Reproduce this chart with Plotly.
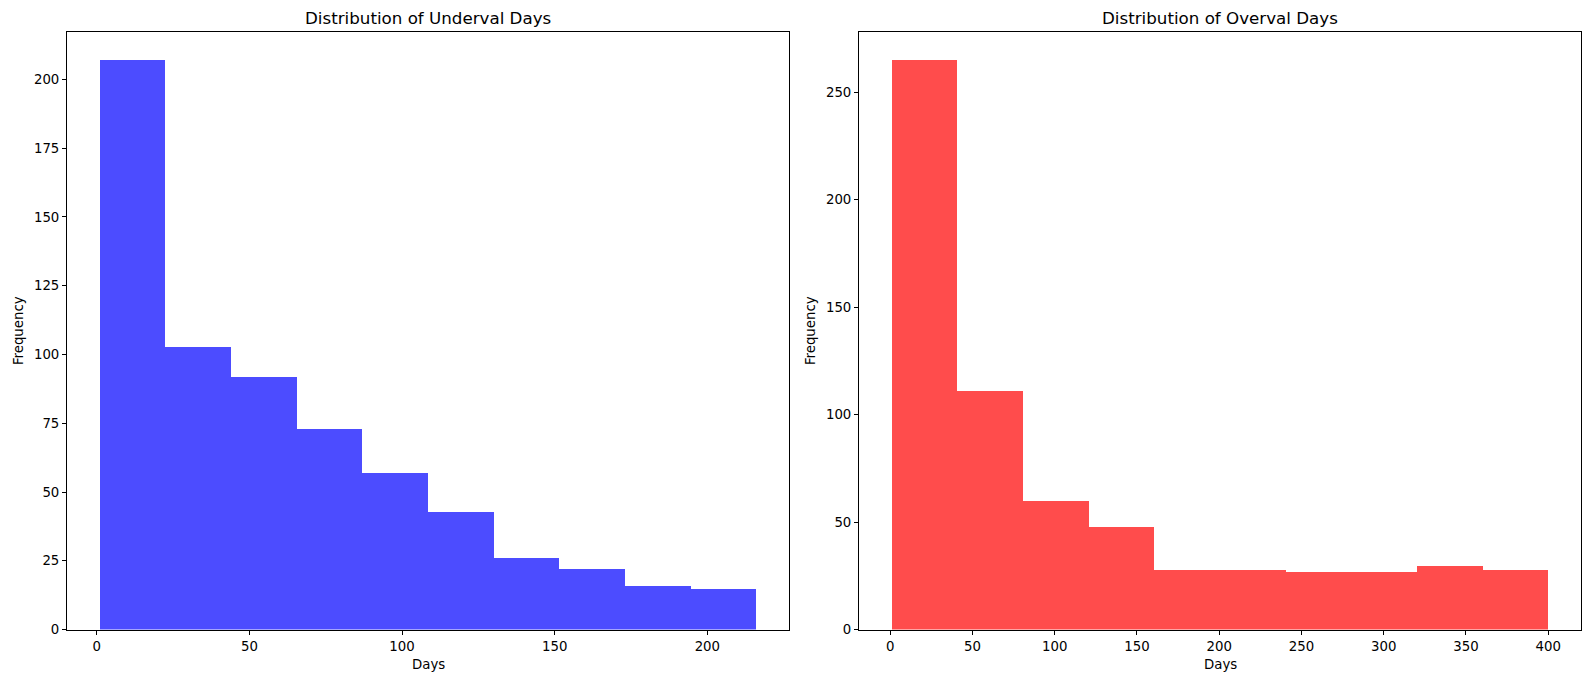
import numpy as np
import plotly.graph_objects as go

# histogram counts (10 bins each)
under_counts = [207, 103, 92, 73, 57, 43, 26, 22, 16, 15]
under_lo, under_hi = 1, 216
over_counts = [265, 111, 60, 48, 28, 28, 27, 27, 30, 28]
over_lo, over_hi = 1, 400

under_xticks = [0, 50, 100, 150, 200]
under_yticks = [0, 25, 50, 75, 100, 125, 150, 175, 200]
over_xticks = [0, 50, 100, 150, 200, 250, 300, 350, 400]
over_yticks = [0, 50, 100, 150, 200, 250]

W, H = 1589, 690
FONT = "DejaVu Sans"

# axes boxes in pixels (left, right), shared top/bottom
LEFT_AX = (67, 789)
RIGHT_AX = (859, 1581)
TOP, BOTTOM = 32, 637


def bars(counts, lo, hi, color, xa, ya):
    edges = np.linspace(lo, hi, len(counts) + 1)
    centers = (edges[:-1] + edges[1:]) / 2
    return go.Bar(x=centers, y=counts, width=edges[1] - edges[0],
                  marker=dict(color=color, line=dict(width=0)),
                  xaxis=xa, yaxis=ya, showlegend=False)


fig = go.Figure()
fig.add_trace(bars(under_counts, under_lo, under_hi, "rgba(0,0,255,0.7)", "x", "y"))
fig.add_trace(bars(over_counts, over_lo, over_hi, "rgba(255,0,0,0.7)", "x2", "y2"))


def axis_style(ticks, rng, dom):
    return dict(domain=dom, range=rng, tickvals=ticks, showgrid=False, zeroline=False,
                showline=True, linecolor="black", linewidth=1, mirror=True,
                ticks="outside", ticklen=4, tickcolor="black",
                tickfont=dict(size=13.3, color="black", family=FONT))


ydom = [(H - BOTTOM) / H, (H - TOP) / H]
um = (under_hi - under_lo) * 0.05
om = (over_hi - over_lo) * 0.05

fig.update_layout(
    width=W, height=H, margin=dict(l=0, r=0, t=0, b=0),
    plot_bgcolor="white", paper_bgcolor="white", bargap=0,
    font=dict(family=FONT, color="black"),
    xaxis=axis_style(under_xticks, [under_lo - um, under_hi + um],
                     [LEFT_AX[0] / W, LEFT_AX[1] / W]),
    yaxis=axis_style(under_yticks, [0, max(under_counts) * 1.05], ydom),
    xaxis2=axis_style(over_xticks, [over_lo - om, over_hi + om],
                      [RIGHT_AX[0] / W, RIGHT_AX[1] / W]),
    yaxis2=axis_style(over_yticks, [0, max(over_counts) * 1.05], ydom),
)
fig.layout.xaxis2.anchor = "y2"
fig.layout.yaxis2.anchor = "x2"

lc = sum(LEFT_AX) / 2
rc = sum(RIGHT_AX) / 2
mid = (TOP + BOTTOM) / 2

# titles and axis labels as annotations, placed like the original
labels = [
    ("Distribution of Underval Days", lc / W, 1 - 18 / H, 16.7, 0),
    ("Distribution of Overval Days", rc / W, 1 - 18 / H, 16.7, 0),
    ("Days", lc / W, 1 - 672 / H, 13.3, 0),
    ("Days", rc / W, 1 - 672 / H, 13.3, 0),
    ("Frequency", 18.5 / W, 1 - mid / H, 13.3, -90),
    ("Frequency", (RIGHT_AX[0] - 48.5) / W, 1 - mid / H, 13.3, -90),
]
for text, x, y, size, ang in labels:
    fig.add_annotation(text=text, x=x, y=y, xref="paper", yref="paper",
                       showarrow=False, textangle=ang, xanchor="center", yanchor="middle",
                       font=dict(size=size, color="black", family=FONT))

# no page margin / scrollbars so the figure fills the window exactly
fig.write_html("out.html", config={"displayModeBar": False},
               post_script="document.body.style.margin='0';"
                           "document.documentElement.style.overflow='hidden';"
                           "document.body.style.overflow='hidden';")
